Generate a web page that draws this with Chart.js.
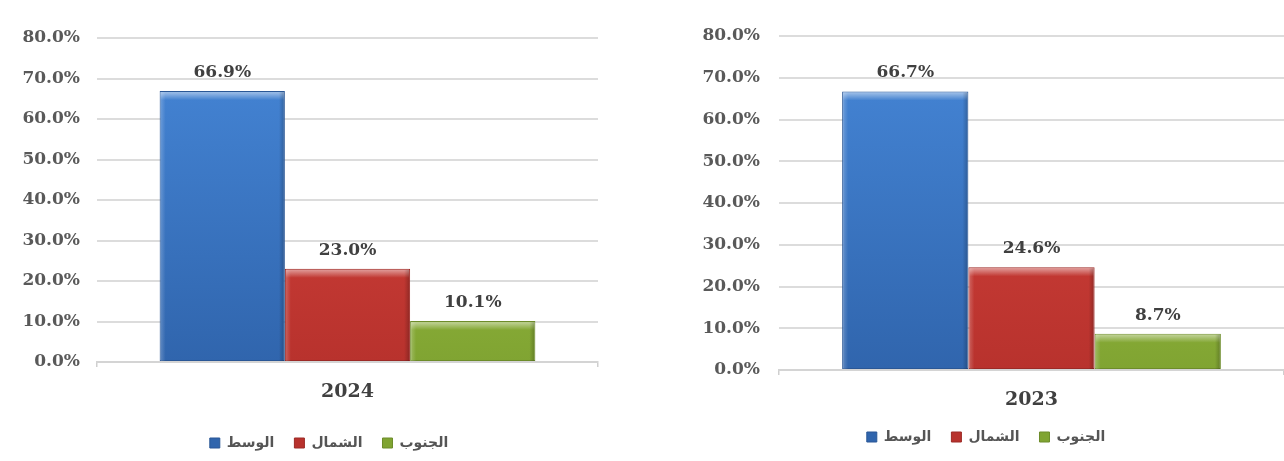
<!DOCTYPE html>
<html>
<head>
<meta charset="utf-8">
<script src="https://cdn.jsdelivr.net/npm/chart.js@4/dist/chart.umd.min.js"></script>
<style>
  html, body { margin: 0; padding: 0; background: #ffffff; }
  body { width: 1284px; height: 461px; position: relative; overflow: hidden; }
  .box { position: absolute; top: 0; height: 461px; }
  #boxLeft { left: 0; width: 620px; }
  #boxRight { left: 680px; width: 604px; }
</style>
</head>
<body>
<div class="box" id="boxLeft"><canvas id="chart2024"></canvas></div>
<div class="box" id="boxRight"><canvas id="chart2023"></canvas></div>
<script>
// Data
const regions = ['الوسط', 'الشمال', 'الجنوب'];
const categories2024 = ['2024'];
const categories2023 = ['2023'];
const values2024 = [66.9, 23.0, 10.1];
const values2023 = [66.7, 24.6, 8.7];
const yTicks = [0, 10, 20, 30, 40, 50, 60, 70, 80];

// Colours for the bars (top and bottom of the gradient)
const barTop = ['#4687d8', '#d9463f', '#a8c948'];
const barBottom = ['#3065ad', '#b8322d', '#80a432'];
const barEdge = ['#2a5796', '#9c2a26', '#6d8c2a'];

const serif = "'DejaVu Serif', 'Liberation Serif', serif";

//Draws the value above every bar
const valueLabels = {
    id: 'valueLabels',
    afterDatasetsDraw(chart) {
        const ctx = chart.ctx;
        ctx.save();
        ctx.font = 'bold 17px ' + serif;
        ctx.fillStyle = '#404040';
        ctx.textAlign = 'center';
        ctx.textBaseline = 'bottom';
        chart.data.datasets.forEach((ds, i) => {
            const meta = chart.getDatasetMeta(i);
            meta.data.forEach((bar, j) => {
                ctx.fillText(ds.data[j].toFixed(1) + '%', bar.x, bar.y - 10);
            });
        });
        ctx.restore();
    }
};

//Light/dark edges so the bars look bevelled like the original
const bevel = {
    id: 'bevel',
    afterDatasetsDraw(chart) {
        const ctx = chart.ctx;
        ctx.save();
        chart.data.datasets.forEach((ds, i) => {
            chart.getDatasetMeta(i).data.forEach(bar => {
                const l = bar.x - bar.width / 2, r = bar.x + bar.width / 2;
                const t = bar.y, b = bar.base;
                let g = ctx.createLinearGradient(0, t, 0, t + 9);
                g.addColorStop(0, 'rgba(255,255,255,0.55)');
                g.addColorStop(1, 'rgba(255,255,255,0)');
                ctx.fillStyle = g;
                ctx.fillRect(l + 1, t + 1, r - l - 2, 9);
                g = ctx.createLinearGradient(l, 0, l + 6, 0);
                g.addColorStop(0, 'rgba(255,255,255,0.25)');
                g.addColorStop(1, 'rgba(255,255,255,0)');
                ctx.fillStyle = g;
                ctx.fillRect(l + 1, t + 1, 6, b - t - 1);
                g = ctx.createLinearGradient(r - 6, 0, r, 0);
                g.addColorStop(0, 'rgba(0,0,0,0)');
                g.addColorStop(1, 'rgba(0,0,0,0.25)');
                ctx.fillStyle = g;
                ctx.fillRect(r - 7, t + 1, 6, b - t - 1);
            });
        });
        ctx.restore();
    }
};

//Moves the legend sideways so it sits where the original one is
const legendShift = {
    id: 'legendShift',
    afterLayout(chart, args, opts) {
        const s = opts.x || 0;
        if (chart.legend && s) {
            chart.legend.left += s;
            chart.legend.right += s;
        }
    }
};

function makeChart(canvasId, categories, values, lay) {
    const datasets = regions.map((name, i) => ({
        label: name,
        data: [values[i]],
        backgroundColor: (c) => {
            const area = c.chart.chartArea;
            if (!area) return barTop[i];
            const g = c.chart.ctx.createLinearGradient(0, area.top, 0, area.bottom);
            g.addColorStop(0, barTop[i]);
            g.addColorStop(1, barBottom[i]);
            return g;
        },
        borderColor: barEdge[i],
        borderWidth: 1,
        borderSkipped: false,
        categoryPercentage: 0.75,
        barPercentage: 1.0
    }));

    const ctx = document.getElementById(canvasId).getContext('2d');
    return new Chart(ctx, {
        type: 'bar',
        data: { labels: categories, datasets: datasets },
        options: {
            responsive: true,
            maintainAspectRatio: false,
            animation: false,
            layout: { padding: { top: lay.top, left: lay.left, right: lay.right, bottom: lay.bottom } },
            plugins: {
                legend: {
                    display: true,
                    position: 'bottom',
                    labels: {
                        boxWidth: 10,
                        boxHeight: 10,
                        padding: 20,
                        color: '#555555',
                        font: { family: "'DejaVu Sans', sans-serif", size: 14, weight: 'bold' }
                    }
                },
                legendShift: { x: lay.legendShift },
                tooltip: { enabled: false }
            },
            scales: {
                x: {
                    grid: { display: true, drawOnChartArea: false, drawTicks: true, tickLength: 5, color: '#cfcfcf', lineWidth: 1.5 },
                    border: { display: true, color: '#d4d4d4', width: 2 },
                    ticks: { color: '#404040', padding: 14, font: { family: serif, size: 19, weight: 'bold' } },
                    afterFit: (axis) => { axis.height = lay.xHeight; }
                },
                y: {
                    min: 0,
                    max: 80,
                    afterBuildTicks: (axis) => { axis.ticks = yTicks.map(v => ({ value: v })); },
                    grid: { color: '#dcdcdc', lineWidth: 2, drawTicks: false },
                    border: { display: false },
                    ticks: {
                        color: '#595959',
                        padding: lay.tickPad,
                        font: { family: serif, size: 17, weight: 'bold' },
                        callback: (v) => v.toFixed(1) + '%'
                    },
                    afterFit: (axis) => { axis.width = lay.yWidth; }
                }
            }
        },
        plugins: [bevel, valueLabels, legendShift]
    });
}

makeChart('chart2024', categories2024, values2024,
    { top: 38, left: 0, right: 22, bottom: 1, xHeight: 54, yWidth: 97, tickPad: 17, legendShift: 30 });
makeChart('chart2023', categories2023, values2023,
    { top: 36, left: 8, right: 0, bottom: 7, xHeight: 40, yWidth: 91, tickPad: 19, legendShift: 0 });
</script>
</body>
</html>
